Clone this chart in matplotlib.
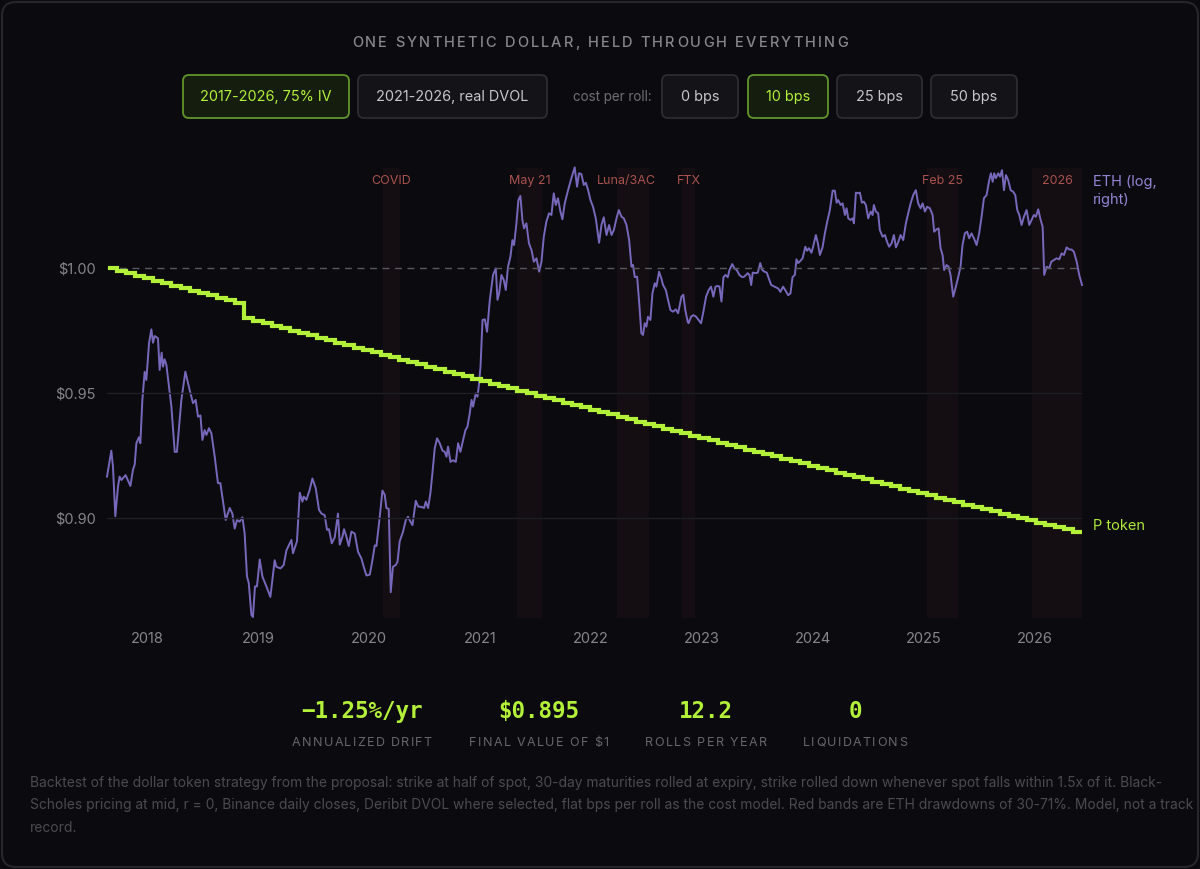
import numpy as np
import matplotlib
matplotlib.use('Agg')
import matplotlib.pyplot as plt
from matplotlib.patches import FancyBboxPatch
from matplotlib import transforms
from matplotlib.ticker import NullLocator

plt.rcParams['font.family'] = ['Inter', 'DejaVu Sans']

# ---------------- data ----------------
eth_dates = [
    2017.633, 2017.672, 2017.687, 2017.708, 2017.732, 2017.747, 2017.763, 2017.801, 2017.844, 2017.867,
    2017.883, 2017.898, 2017.921, 2017.934, 2017.952, 2017.973, 2017.988, 2018.012, 2018.033, 2018.048,
    2018.063, 2018.093, 2018.108, 2018.126, 2018.138, 2018.153, 2018.169, 2018.214, 2018.244, 2018.264,
    2018.304, 2018.340, 2018.379, 2018.409, 2018.433, 2018.454, 2018.476, 2018.494, 2018.514, 2018.530,
    2018.553, 2018.575, 2018.605, 2018.634, 2018.656, 2018.704, 2018.740, 2018.764, 2018.785, 2018.806,
    2018.830, 2018.855, 2018.875, 2018.896, 2018.912, 2018.936, 2018.950, 2018.968, 2018.986, 2019.011,
    2019.035, 2019.071, 2019.107, 2019.146, 2019.161, 2019.198, 2019.227, 2019.252, 2019.297, 2019.311,
    2019.347, 2019.372, 2019.396, 2019.408, 2019.432, 2019.462, 2019.486, 2019.516, 2019.546, 2019.568,
    2019.597, 2019.618, 2019.636, 2019.661, 2019.688, 2019.717, 2019.733, 2019.757, 2019.772, 2019.793,
    2019.814, 2019.838, 2019.868, 2019.898, 2019.929, 2019.949, 2019.974, 2020.004, 2020.028, 2020.049,
    2020.064, 2020.094, 2020.118, 2020.139, 2020.154, 2020.175, 2020.193, 2020.213, 2020.238, 2020.254,
    2020.274, 2020.304, 2020.329, 2020.349, 2020.371, 2020.389, 2020.419, 2020.440, 2020.470, 2020.494,
    2020.509, 2020.530, 2020.551, 2020.569, 2020.590, 2020.611, 2020.635, 2020.660, 2020.680, 2020.696,
    2020.710, 2020.732, 2020.755, 2020.780, 2020.801, 2020.822, 2020.846, 2020.867, 2020.885, 2020.906,
    2020.922, 2020.936, 2020.960, 2020.976, 2020.990, 2021.003, 2021.021, 2021.042, 2021.062, 2021.087,
    2021.116, 2021.141, 2021.156, 2021.171, 2021.192, 2021.213, 2021.231, 2021.251, 2021.273, 2021.291,
    2021.306, 2021.327, 2021.345, 2021.363, 2021.381, 2021.396, 2021.417, 2021.440, 2021.463, 2021.484,
    2021.508, 2021.532, 2021.553, 2021.574, 2021.597, 2021.621, 2021.643, 2021.664, 2021.682, 2021.702,
    2021.724, 2021.742, 2021.763, 2021.793, 2021.823, 2021.853, 2021.874, 2021.892, 2021.913, 2021.935,
    2021.953, 2021.974, 2021.995, 2022.018, 2022.043, 2022.073, 2022.094, 2022.115, 2022.140, 2022.163,
    2022.185, 2022.206, 2022.230, 2022.251, 2022.275, 2022.296, 2022.320, 2022.344, 2022.365, 2022.379,
    2022.395, 2022.416, 2022.434, 2022.454, 2022.469, 2022.485, 2022.500, 2022.514, 2022.536, 2022.554,
    2022.575, 2022.590, 2022.614, 2022.635, 2022.650, 2022.675, 2022.695, 2022.717, 2022.740, 2022.765,
    2022.786, 2022.816, 2022.833, 2022.851, 2022.872, 2022.880, 2022.903, 2022.924, 2022.948, 2022.971,
    2022.993, 2023.014, 2023.038, 2023.062, 2023.083, 2023.104, 2023.123, 2023.143, 2023.159, 2023.177,
    2023.195, 2023.213, 2023.234, 2023.249, 2023.274, 2023.294, 2023.315, 2023.339, 2023.364, 2023.384,
    2023.414, 2023.430, 2023.445, 2023.459, 2023.484, 2023.505, 2023.527, 2023.545, 2023.565, 2023.586,
    2023.604, 2023.626, 2023.655, 2023.690, 2023.709, 2023.733, 2023.758, 2023.779, 2023.800, 2023.818,
    2023.839, 2023.854, 2023.869, 2023.891, 2023.909, 2023.934, 2023.949, 2023.967, 2023.989, 2024.004,
    2024.029, 2024.047, 2024.065, 2024.089, 2024.110, 2024.131, 2024.155, 2024.180, 2024.200, 2024.216,
    2024.230, 2024.252, 2024.270, 2024.291, 2024.306, 2024.321, 2024.342, 2024.360, 2024.372, 2024.390,
    2024.411, 2024.426, 2024.444, 2024.462, 2024.480, 2024.501, 2024.523, 2024.541, 2024.552, 2024.570,
    2024.591, 2024.606, 2024.631, 2024.652, 2024.672, 2024.690, 2024.712, 2024.733, 2024.751, 2024.772,
    2024.793, 2024.817, 2024.841, 2024.862, 2024.884, 2024.907, 2024.931, 2024.952, 2024.974, 2024.992,
    2025.013, 2025.033, 2025.058, 2025.082, 2025.096, 2025.118, 2025.136, 2025.154, 2025.172, 2025.186,
    2025.208, 2025.226, 2025.244, 2025.268, 2025.292, 2025.313, 2025.334, 2025.352, 2025.373, 2025.394,
    2025.412, 2025.433, 2025.455, 2025.479, 2025.502, 2025.524, 2025.545, 2025.569, 2025.593, 2025.608,
    2025.624, 2025.638, 2025.653, 2025.674, 2025.690, 2025.708, 2025.726, 2025.744, 2025.764, 2025.786,
    2025.809, 2025.828, 2025.846, 2025.864, 2025.885, 2025.906, 2025.930, 2025.954, 2025.975, 2025.996,
    2026.014, 2026.035, 2026.057, 2026.075, 2026.089, 2026.111, 2026.134, 2026.153, 2026.177, 2026.201,
    2026.225, 2026.246, 2026.267, 2026.291, 2026.315, 2026.336, 2026.357, 2026.382, 2026.405, 2026.430,
]
eth_prices = [
    297, 375, 324, 208, 271, 297, 288, 301, 273, 315,
    331, 401, 423, 401, 592, 763, 708, 985, 1117, 990,
    1052, 1031, 775, 906, 798, 853, 810, 557, 371, 371,
    592, 763, 647, 575, 592, 509, 515, 413, 451, 432,
    459, 438, 355, 280, 280, 201, 224, 213, 186, 201,
    198, 206, 178, 121, 114, 85.5, 84, 110.6, 110.6, 141,
    121, 110.6, 100.6, 140, 132, 130, 134, 153, 168, 149,
    166, 257, 237, 248, 241, 264, 292, 268, 220, 213,
    210, 184, 185, 163, 172, 213, 161, 173, 185, 173,
    159, 181, 178, 151, 142, 132, 122, 123, 140, 160,
    159, 207, 262, 252, 224, 222, 105, 132, 134, 138,
    166, 181, 201, 207, 198, 192, 239, 227, 226, 224,
    237, 224, 256, 306, 383, 419, 401, 375, 371, 355,
    389, 339, 344, 339, 401, 371, 413, 451, 465, 525,
    592, 557, 628, 609, 687, 798, 1215, 1222, 1093, 1455,
    1821, 1934, 1455, 1543, 1821, 1741, 1591, 1962, 2146, 2492,
    2384, 2899, 3573, 3707, 2986, 2770, 2899, 2421, 2280, 2052,
    2116, 1876, 2052, 2570, 2939, 3172, 3125, 3797, 3418, 3632,
    3222, 3004, 3468, 3906, 4349, 4794, 4029, 4546, 4515, 4091,
    4177, 3906, 3573, 3364, 3031, 2433, 2854, 3060, 2609, 2854,
    2609, 2728, 3031, 3266, 3076, 3031, 2854, 2492, 1962, 1992,
    1786, 1795, 1434, 1079, 1062, 1180, 1144, 1251, 1215, 1543,
    1691, 1640, 1876, 1765, 1664, 1591, 1455, 1328, 1309, 1336,
    1290, 1498, 1525, 1328, 1197, 1180, 1251, 1270, 1251, 1215,
    1180, 1309, 1498, 1591, 1640, 1498, 1640, 1650, 1640, 1434,
    1786, 1821, 1786, 1904, 2009, 1934, 1904, 1821, 1786, 1795,
    1851, 1821, 1664, 1861, 1851, 1861, 2027, 1904, 1876, 1861,
    1765, 1664, 1640, 1612, 1564, 1640, 1576, 1518, 1543, 1786,
    1821, 2097, 2027, 2071, 2116, 2348, 2265, 2316, 2225, 2348,
    2609, 2421, 2180, 2334, 2648, 2939, 3266, 3887, 3887, 3488,
    3573, 3418, 3468, 3125, 3317, 3031, 2986, 3031, 2899, 3820,
    3800, 3820, 3488, 3521, 3418, 3031, 3222, 3125, 3418, 3222,
    3172, 2728, 2570, 2609, 2448, 2348, 2421, 2609, 2334, 2448,
    2609, 2492, 2899, 3172, 3468, 3737, 3906, 3468, 3317, 3468,
    3222, 3364, 3317, 3125, 2688, 2746, 2770, 2316, 2180, 1904,
    1992, 1962, 1821, 1498, 1640, 1786, 1962, 2384, 2648, 2688,
    2533, 2648, 2533, 2384, 2648, 3076, 3632, 3737, 4277, 4546,
    4210, 4546, 4349, 4546, 4410, 4676, 3906, 4473, 4277, 3906,
    3850, 3737, 3266, 3125, 2854, 3076, 3266, 2854, 2986, 3125,
    3076, 3288, 2986, 2810, 1821, 1962, 1934, 2052, 2083, 2116,
    2097, 2212, 2180, 2334, 2290, 2290, 2243, 2052, 1821, 1664,
]

# P token value after each 30-day roll (10 bps per roll), starting Aug 2017
ptoken_start = 2017.64
ptoken_end = 2026.43
roll_days = 30
ptoken_values = [
    1.0000, 0.9990, 0.9980, 0.9970, 0.9960, 0.9950, 0.9940, 0.9930, 0.9920, 0.9910,
    0.9900, 0.9891, 0.9881, 0.9871, 0.9861, 0.9799, 0.9789, 0.9779, 0.9770, 0.9760,
    0.9750, 0.9740, 0.9731, 0.9721, 0.9711, 0.9701, 0.9692, 0.9682, 0.9672, 0.9663,
    0.9653, 0.9643, 0.9634, 0.9624, 0.9615, 0.9605, 0.9595, 0.9586, 0.9576, 0.9567,
    0.9557, 0.9547, 0.9538, 0.9528, 0.9519, 0.9509, 0.9500, 0.9490, 0.9481, 0.9471,
    0.9462, 0.9452, 0.9443, 0.9434, 0.9424, 0.9415, 0.9405, 0.9396, 0.9386, 0.9377,
    0.9368, 0.9358, 0.9349, 0.9340, 0.9330, 0.9321, 0.9312, 0.9302, 0.9293, 0.9284,
    0.9274, 0.9265, 0.9256, 0.9247, 0.9237, 0.9228, 0.9219, 0.9210, 0.9201, 0.9191,
    0.9182, 0.9173, 0.9164, 0.9155, 0.9146, 0.9136, 0.9127, 0.9118, 0.9109, 0.9100,
    0.9091, 0.9082, 0.9073, 0.9064, 0.9054, 0.9045, 0.9036, 0.9027, 0.9018, 0.9009,
    0.9000, 0.8991, 0.8982, 0.8973, 0.8964, 0.8955, 0.8946,
]

band_names = ['COVID', 'May 21', 'Luna/3AC', 'FTX', 'Feb 25', '2026']
band_starts = [2020.12, 2021.33, 2022.23, 2022.82, 2025.03, 2025.98]
band_ends = [2020.28, 2021.56, 2022.52, 2022.94, 2025.31, 2026.43]
band_label_shift_px = [0, 0, -6, 0, 0, 0]

year_ticks = [2018, 2019, 2020, 2021, 2022, 2023, 2024, 2025, 2026]
y_ticks = [0.90, 0.95, 1.00]
y_tick_labels = ['$0.90', '$0.95', '$1.00']

title = 'ONE SYNTHETIC DOLLAR, HELD THROUGH EVERYTHING'
period_buttons = ['2017-2026, 75% IV', '2021-2026, real DVOL']
cost_buttons = ['0 bps', '10 bps', '25 bps', '50 bps']
stat_values = ['\u22121.25%/yr', '$0.895', '12.2', '0']
stat_labels = ['ANNUALIZED DRIFT', 'FINAL VALUE OF $1', 'ROLLS PER YEAR', 'LIQUIDATIONS']
footnote_lines = [
    'Backtest of the dollar token strategy from the proposal: strike at half of spot, 30-day maturities rolled at expiry, strike rolled down whenever spot falls within 1.5x of it. Black-',
    'Scholes pricing at mid, r = 0, Binance daily closes, Deribit DVOL where selected, flat bps per roll as the cost model. Red bands are ETH drawdowns of 30-71%. Model, not a track',
    'record.',
]

# ---------------- style ----------------
BG = '#0b0b0f'
LIME = '#b3f03a'
PURPLE = '#7868bb'
BAND_TXT = '#a9524e'
GRAY_TXT = '#85858c'

W, H = 1200, 869
fig = plt.figure(figsize=(W / 100, H / 100), dpi=100, facecolor=BG)

ov = fig.add_axes([0, 0, 1, 1], zorder=-10)
ov.set_xlim(0, W)
ov.set_ylim(H, 0)
ov.axis('off')
ov.add_patch(FancyBboxPatch((2, 2), W - 4, H - 4, boxstyle='round,pad=0,rounding_size=14',
                            fc=BG, ec='#26262c', lw=1.5))

R = fig.canvas.get_renderer()


def tw(s, **kw):
    t = ov.text(0, 0, s, **kw)
    w = t.get_window_extent(renderer=R).width
    t.remove()
    return w


def spaced(xc, y, s, width, **kw):
    n = len(s)
    ref = tw('II', **kw)
    nat = tw('I' + s + 'I', **kw) - ref
    sp = (width - nat) / (n - 1)
    x0 = xc - width / 2
    for i, ch in enumerate(s):
        if ch == ' ':
            continue
        off = (tw('I' + s[:i] + 'I', **kw) - ref) if i else 0
        ov.text(x0 + off + i * sp, y, ch, ha='left', va='center', **kw)


def fit(s, width, base, **kw):
    return base * width / tw(s, fontsize=base, **kw)


# ---------------- header ----------------
spaced(600, 43, title, 496, fontsize=10.5, color='#86868d', fontweight='medium')

btn_fs = fit(period_buttons[1], 152, 11)
buttons = [
    (183, 349, period_buttons[0], True),
    (358, 547, period_buttons[1], False),
    (662, 738, cost_buttons[0], False),
    (748, 828, cost_buttons[1], True),
    (837, 922, cost_buttons[2], False),
    (931, 1017, cost_buttons[3], False),
]
for x0, x1, s, sel in buttons:
    ov.add_patch(FancyBboxPatch((x0, 75), x1 - x0, 43, boxstyle='round,pad=0,rounding_size=6',
                                fc='#151d0e' if sel else '#141418',
                                ec='#62952b' if sel else '#2c2c33', lw=1.3))
    ov.text((x0 + x1) / 2, 97.5, s, ha='center', va='center', fontsize=btn_fs,
            color=LIME if sel else '#c6c6cb')
ov.text(573, 97.5, 'cost per roll:', ha='left', va='center',
        fontsize=fit('cost per roll:', 80, 10), color='#6d6d74')

# ---------------- chart ----------------
L, Rr, T, B = 107, 1082, 168, 618
ax = fig.add_axes([L / W, 1 - B / H, (Rr - L) / W, (B - T) / H])
ax2 = ax.twinx()
ax.set_zorder(ax2.get_zorder() + 1)
ax.patch.set_visible(False)
ax2.patch.set_visible(False)

ax.set_xlim(2017.633, 2026.43)
ax.set_ylim(0.86, 1.04)
ax2.set_yscale('log')
ax2.set_ylim(83.25, 4767)
ax2.yaxis.set_major_locator(NullLocator())
ax2.yaxis.set_minor_locator(NullLocator())

for a in (ax, ax2):
    for sp_ in a.spines.values():
        sp_.set_visible(False)

for s0, s1 in zip(band_starts, band_ends):
    ax2.axvspan(s0, s1, color='#c83c3c', alpha=0.05, lw=0, zorder=0)

ax2.plot(eth_dates, eth_prices, color=PURPLE, lw=1.4, zorder=3, clip_on=False,
         solid_joinstyle='round')

ax.axhline(0.95, color='#1e1e24', lw=1, zorder=1)
ax.axhline(0.90, color='#1e1e24', lw=1, zorder=1)
ax.axhline(1.00, color='#57575e', lw=1, dashes=(5, 4), zorder=1)

roll_dates = ptoken_start + np.arange(len(ptoken_values)) * roll_days / 365.25
px = np.append(roll_dates, ptoken_end)
py = np.append(ptoken_values, ptoken_values[-1])
ax.plot(px, py, drawstyle='steps-post', color=LIME, lw=3, zorder=5,
        solid_capstyle='butt', solid_joinstyle='miter')

ax.set_xticks(year_ticks)
ax.set_xticklabels([str(y) for y in year_ticks])
ax.set_yticks(y_ticks)
ax.set_yticklabels(y_tick_labels)
ax.tick_params(axis='x', length=0, pad=10, labelsize=10.5, colors=GRAY_TXT)
ax.tick_params(axis='y', length=0, pad=8, labelsize=10.5, colors=GRAY_TXT)
ax2.tick_params(axis='y', length=0, labelright=False)

blend = transforms.blended_transform_factory(ax.transData, ax.transAxes)
for name, s0, s1, dx in zip(band_names, band_starts, band_ends, band_label_shift_px):
    ax.annotate(name, xy=((s0 + s1) / 2, 0.971), xycoords=blend, xytext=(dx, 0),
                textcoords='offset pixels', ha='center', va='center', fontsize=9.0,
                color=BAND_TXT, annotation_clip=False)

ov.text(1093, 182, 'ETH (log,', ha='left', va='center', fontsize=10.5, color='#9384d4')
ov.text(1093, 200, 'right)', ha='left', va='center', fontsize=10.5, color='#9384d4')
ov.text(1093, 526, 'P token', ha='left', va='center', fontsize=10.5, color='#aee63a')

# ---------------- stats ----------------
stat_x = [362, 539, 706, 855]
label_w = [140, 140, 122, 104]
val_fs = fit(stat_values[0], 122, 16, family='DejaVu Sans Mono', fontweight='bold')
for xc, v, lab, lw_ in zip(stat_x, stat_values, stat_labels, label_w):
    ov.text(xc, 711.5, v, ha='center', va='center', fontsize=val_fs, color=LIME,
            family='DejaVu Sans Mono', fontweight='bold')
    spaced(xc, 743, lab, lw_, fontsize=9, color='#66666d')

# ---------------- footnote ----------------
fn_fs = fit(footnote_lines[0], 1126, 9.5)
for i, line in enumerate(footnote_lines):
    ov.text(30, 783 + i * 22.5, line, ha='left', va='center', fontsize=fn_fs, color='#4a4a51')

fig.savefig('out.png', dpi=100, facecolor=BG)
